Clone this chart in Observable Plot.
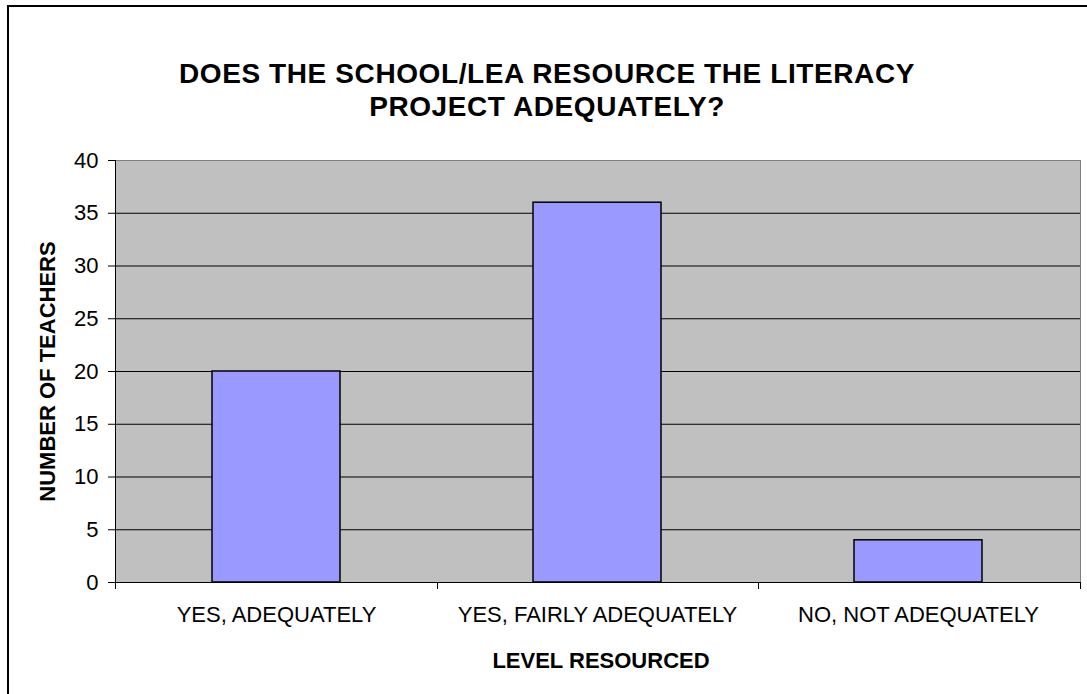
<!DOCTYPE html>
<html>
<head>
<meta charset="utf-8">
<script src="https://cdn.jsdelivr.net/npm/d3@7"></script>
<script src="https://cdn.jsdelivr.net/npm/@observablehq/plot@0.6"></script>
<style>
  body { margin: 0; background: #fff; }
  #chart { position: relative; width: 1087px; height: 694px; overflow: hidden;
           font-family: "Liberation Sans", Arial, sans-serif; color: #000; }
  #border { position: absolute; left: 7px; top: 5px; width: 1200px; height: 800px;
            border: 2px solid #000; box-sizing: border-box; }
  #title { position: absolute; left: 7px; width: 1080px; top: 57px; text-align: center;
           font-weight: bold; font-size: 28px; line-height: 33px; letter-spacing: 0.6px; }
  #plot { position: absolute; left: 0; top: 140px; }
</style>
</head>
<body>
<div id="chart">
  <div id="border"></div>
  <div id="title">DOES THE SCHOOL/LEA RESOURCE THE LITERACY<br>PROJECT ADEQUATELY?</div>
  <div id="plot"></div>
</div>
<script>
// Responses to the survey question, one bar per answer.
const categories = ["YES, ADEQUATELY", "YES, FAIRLY ADEQUATELY", "NO, NOT ADEQUATELY"];
const teachers = [20, 36, 4];
const yTicks = [0, 5, 10, 15, 20, 25, 30, 35, 40];

const rows = categories.map((c, i) => ({category: c, teachers: teachers[i]}));

// Left axis line plus the short ticks that separate the categories below the base line.
function axisLines(index, scales, values, dims) {
  const {width, height, marginLeft, marginRight, marginTop, marginBottom} = dims;
  const left = marginLeft, right = width - marginRight, bottom = height - marginBottom;
  const n = categories.length;
  const g = d3.create("svg:g").attr("stroke", "#000").attr("stroke-width", 1).attr("fill", "none");
  g.append("line")
    .attr("x1", left + 0.5).attr("x2", left + 0.5)
    .attr("y1", marginTop).attr("y2", bottom + 0.5);
  for (let i = 0; i <= n; i++) {
    const x = Math.round(left + i * (right - left) / n) + 0.5;
    g.append("line").attr("x1", x).attr("x2", x).attr("y1", bottom).attr("y2", bottom + 7);
  }
  return g.node();
}

const chart = Plot.plot({
  width: 1087,
  height: 554,
  marginTop: 20,
  marginLeft: 115,
  marginRight: 7,
  marginBottom: 112,
  style: {fontFamily: "'Liberation Sans', Arial, sans-serif", fontSize: "22px", color: "#000", background: "transparent", overflow: "visible"},
  x: {domain: categories, paddingInner: 0.6, paddingOuter: 0.3, align: 0.5, label: null},
  y: {domain: [0, 40], label: null},
  marks: [
    Plot.frame({fill: "#c0c0c0", stroke: "#808080"}),
    Plot.ruleY(yTicks.filter(v => v > 0 && v < 40), {stroke: "#000", strokeWidth: 1}),
    Plot.barY(rows, {x: "category", y: "teachers", fill: "#9999ff", stroke: "#000", strokeWidth: 1.5}),
    Plot.ruleY([0], {stroke: "#000", strokeWidth: 1}),
    axisLines,
    Plot.axisY({ticks: yTicks, tickSize: 7, tickPadding: 10, label: null, stroke: "#000", fontSize: 22}),
    Plot.axisX({tickSize: 0, tickPadding: 24, label: null, fontSize: 22, letterSpacing: "1.2px"}),
    Plot.text(["NUMBER OF TEACHERS"], {frameAnchor: "left", rotate: -90, dx: -68, fontWeight: "bold", fontSize: 22, letterSpacing: "0.6px", textAnchor: "middle", lineAnchor: "middle"}),
    Plot.text(["LEVEL RESOURCED"], {frameAnchor: "bottom", dx: 3, dy: 85, fontWeight: "bold", fontSize: 22, letterSpacing: "0.8px", lineAnchor: "bottom"})
  ]
});
document.getElementById("plot").append(chart);
</script>
</body>
</html>
